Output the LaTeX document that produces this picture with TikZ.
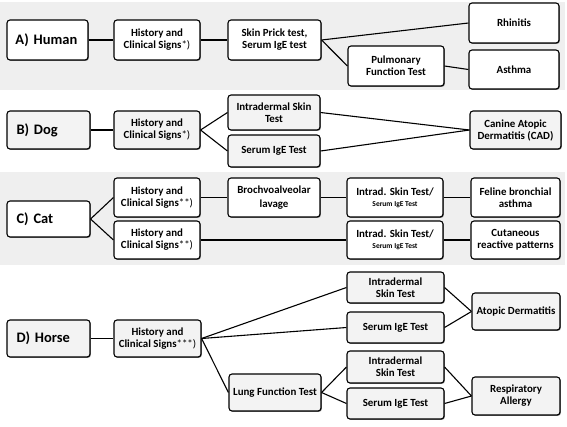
\documentclass[tikz,border=0pt]{standalone}
\usepackage{fontspec}
\setmainfont{Carlito}
\usetikzlibrary{shadows}
\definecolor{bandgray}{RGB}{239,239,239}
\definecolor{boxgray}{RGB}{243,243,243}
\tikzset{
  box/.style={draw=black, line width=1.1pt, rounded corners=3pt, inner sep=1pt,
    align=center, font=\fontsize{10.9}{12}\selectfont\bfseries,
    drop shadow={shadow xshift=0.9pt, shadow yshift=-0.9pt, opacity=0.45, fill=black}},
  wbox/.style={box, fill=white},
  gbox/.style={box, fill=boxgray},
  big/.style={font=\fontsize{14.5}{16}\selectfont\bfseries, align=left, text width=64pt},
  conn/.style={draw=black, line width=1.1pt},
  band/.style={fill=bandgray, draw=none}
}
\begin{document}
\begin{tikzpicture}[x=1pt, y=-1pt]
\useasboundingbox (0,0) rectangle (567,426);
\fill[white] (0,0) rectangle (567,426);
\path[band] (0,2) rectangle (565,90);
\path[band] (0,172) rectangle (565,265);

% Human
\node[wbox, big, minimum width=81pt, minimum height=40pt] (hA) at (47.5,40) {A) Human};
\node[wbox, minimum width=86pt, minimum height=40pt] (hH) at (157,40) {History and\\Clinical Signs\textmd{*)}};
\node[wbox, minimum width=93pt, minimum height=40pt] (hS) at (274.5,40) {Skin Prick test,\\Serum IgE test};
\node[wbox, minimum width=90pt, minimum height=40pt] (hR) at (514,23) {Rhinitis};
\node[wbox, minimum width=96pt, minimum height=40pt] (hP) at (396,66) {Pulmonary\\Function Test};
\node[wbox, minimum width=90pt, minimum height=39pt] (hAs) at (514,69.5) {Asthma};
\draw[conn] (hA.east) -- (hH.west);
\draw[conn] (hH.east) -- (hS.west);
\draw[conn] (hS.east) -- (hR.west);
\draw[conn] (hS.east) -- (hP.west);
\draw[conn] (hP.east) -- (hAs.west);

% Dog
\node[gbox, big, minimum width=83pt, minimum height=38pt] (dA) at (48.5,130) {B) Dog};
\node[gbox, minimum width=86pt, minimum height=38pt] (dH) at (157,130) {History and\\Clinical Signs\textmd{*)}};
\node[gbox, minimum width=92pt, minimum height=35pt] (dI) at (274,112.5) {Intradermal Skin\\Test};
\node[gbox, minimum width=92pt, minimum height=32pt] (dS) at (274,151) {Serum IgE Test};
\node[gbox, minimum width=91pt, minimum height=38pt] (dC) at (515.5,130) {Canine Atopic\\Dermatitis (CAD)};
\draw[conn] (dA.east) -- (dH.west);
\draw[conn] (dH.east) -- (dI.west);
\draw[conn] (dH.east) -- (dS.west);
\draw[conn] (dI.east) -- (dC.west);
\draw[conn] (dS.east) -- (dC.west);

% Cat
\node[wbox, big, minimum width=83pt, minimum height=36pt] (cA) at (48.5,219) {C) Cat};
\node[wbox, minimum width=86pt, minimum height=39pt] (cH1) at (157,197.5) {History and\\Clinical Signs\textmd{**)}};
\node[wbox, minimum width=86pt, minimum height=38pt] (cH2) at (157,240) {History and\\Clinical Signs\textmd{**)}};
\node[wbox, minimum width=92pt, minimum height=39pt] (cB) at (274,197.5) {Brochvoalveolar\\[2pt]lavage};
\node[wbox, minimum width=96pt, minimum height=39pt] (cI1) at (395,197.5) {Intrad. Skin Test/\\[-1pt]{\fontsize{7.5}{9}\selectfont Serum IgE Test}};
\node[wbox, minimum width=96pt, minimum height=38pt] (cI2) at (395,240) {Intrad. Skin Test/\\[-1pt]{\fontsize{7.5}{9}\selectfont Serum IgE Test}};
\node[wbox, minimum width=89pt, minimum height=39pt] (cF) at (515.5,197.5) {Feline bronchial\\asthma};
\node[wbox, minimum width=89pt, minimum height=38pt] (cC) at (515.5,240) {Cutaneous\\reactive patterns};
\draw[conn] (cA.east) -- (cH1.west);
\draw[conn] (cA.east) -- (cH2.west);
\draw[conn] (cH1.east) -- (cB.west);
\draw[conn] (cB.east) -- (cI1.west);
\draw[conn] (cI1.east) -- (cF.west);
\draw[conn] (cH2.east) -- (cI2.west);
\draw[conn] (cI2.east) -- (cC.west);

% Horse
\node[gbox, big, minimum width=83pt, minimum height=37pt] (xA) at (48.5,338.5) {D) Horse};
\node[gbox, minimum width=87pt, minimum height=37pt] (xH) at (157.5,338.5) {History and\\Clinical Signs\textmd{***)}};
\node[gbox, minimum width=92pt, minimum height=37pt] (xL) at (275,392.5) {Lung Function Test};
\node[gbox, minimum width=97pt, minimum height=31pt] (xI1) at (395.5,287.5) {Intradermal\\Skin Test};
\node[gbox, minimum width=97pt, minimum height=31pt] (xS1) at (395.5,327.5) {Serum IgE Test};
\node[gbox, minimum width=88pt, minimum height=37pt] (xAD) at (516,311.5) {Atopic Dermatitis};
\node[gbox, minimum width=97pt, minimum height=32pt] (xI2) at (395.5,367) {Intradermal\\Skin Test};
\node[gbox, minimum width=97pt, minimum height=31pt] (xS2) at (395.5,403.5) {Serum IgE Test};
\node[gbox, minimum width=88pt, minimum height=38pt] (xRA) at (516,396) {Respiratory\\Allergy};
\draw[conn] (xA.east) -- (xH.west);
\draw[conn] (xH.east) -- (xI1.west);
\draw[conn] (xH.east) -- (xS1.west);
\draw[conn] (xH.east) -- (xL.west);
\draw[conn] (xL.east) -- (xI2.west);
\draw[conn] (xL.east) -- (xS2.west);
\draw[conn] (xI1.east) -- (xAD.west);
\draw[conn] (xS1.east) -- (xAD.west);
\draw[conn] (xI2.east) -- (xRA.west);
\draw[conn] (xS2.east) -- (xRA.west);
\end{tikzpicture}
\end{document}
